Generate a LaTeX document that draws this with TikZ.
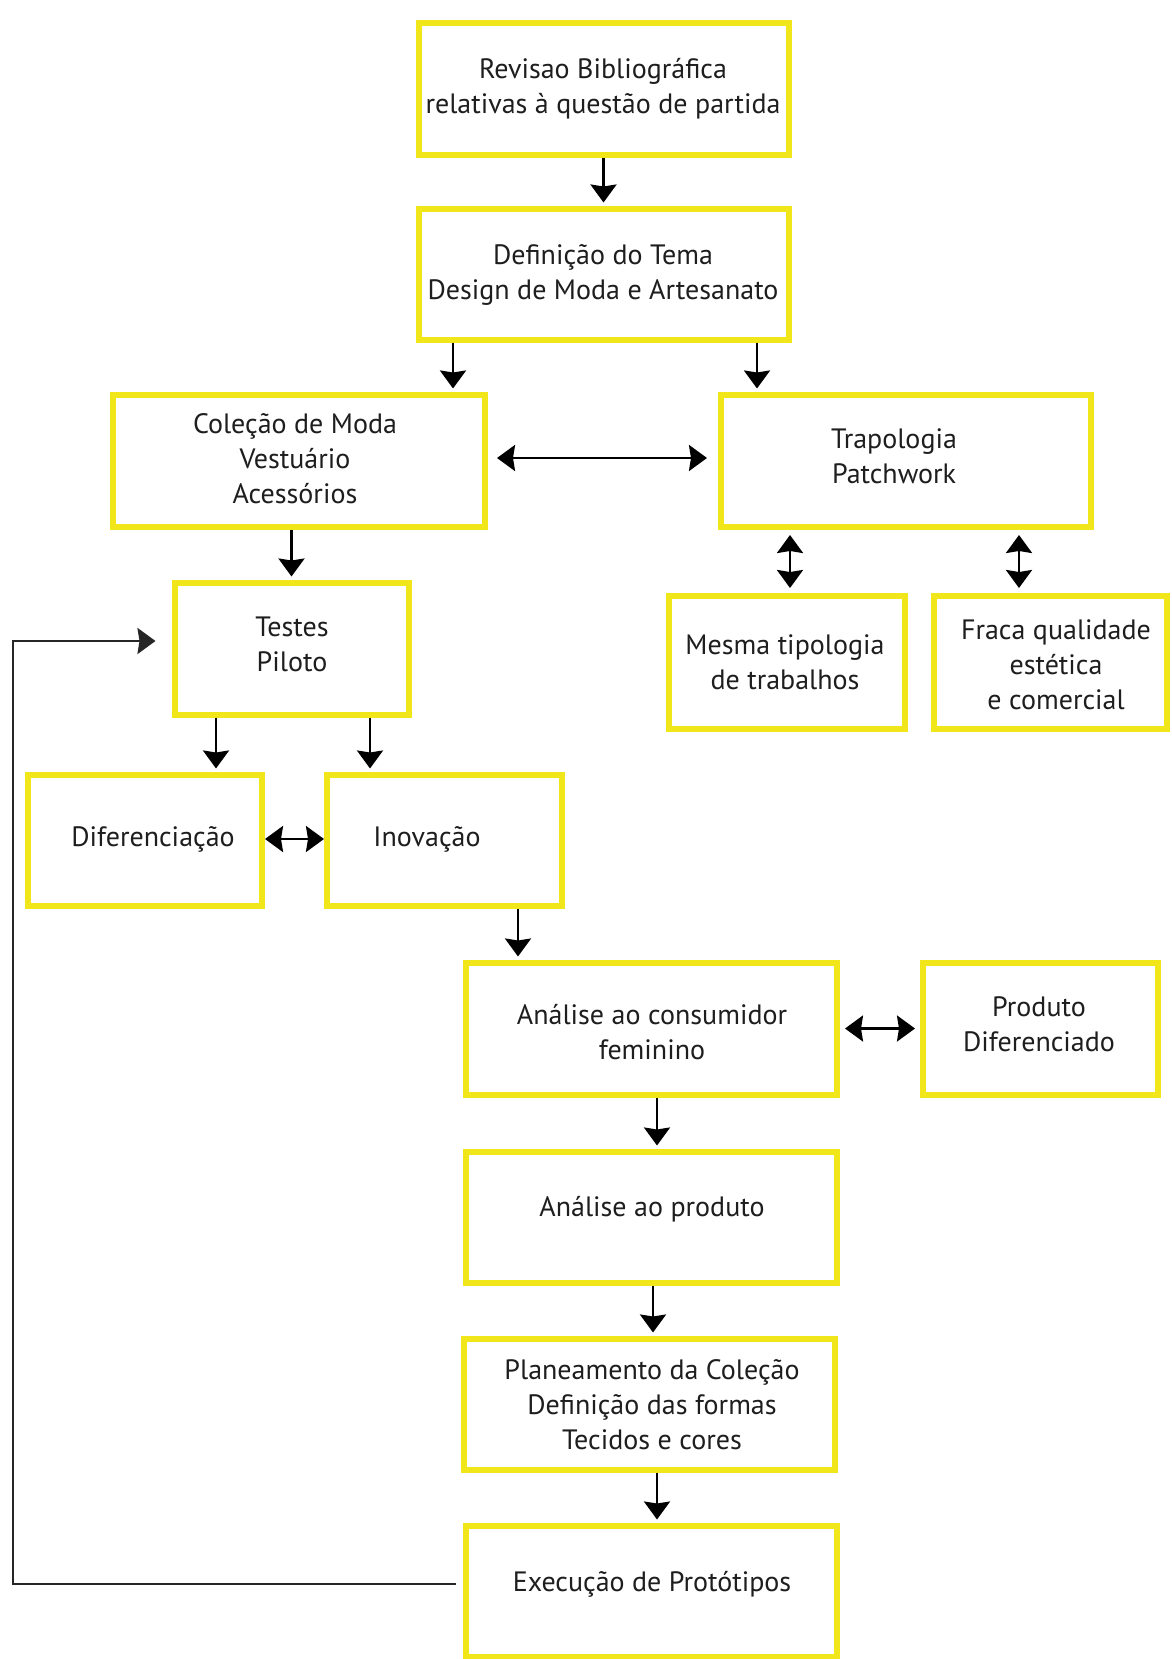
\documentclass[tikz,border=0pt]{standalone}
\usepackage{fontspec}
\setmainfont{PT Sans}
\usetikzlibrary{arrows.meta}
\definecolor{boxyellow}{RGB}{240,230,25}
\definecolor{inkgray}{RGB}{30,30,30}
\tikzset{
  box/.style={draw=boxyellow, line width=6pt, fill=white, rectangle, inner sep=0pt},
  txt/.style={align=center, text=inkgray, font=\fontsize{28pt}{35pt}\selectfont, inner sep=0pt},
  arr/.style={draw=black, line width=2.5pt, -{Stealth[width=26pt,length=18pt,inset=2pt]}},
  darr/.style={draw=black, line width=2.5pt, {Stealth[width=26pt,length=18pt,inset=2pt]}-{Stealth[width=26pt,length=18pt,inset=2pt]}},
  fb/.style={draw=black!85, line width=2.5pt, -{Stealth[width=26pt,length=18pt,inset=2pt]}}
}
\begin{document}
\begin{tikzpicture}[x=1pt,y=-1pt]
\useasboundingbox[fill=white] (0,0) rectangle (1171,1659);
% boxes
\node[box, minimum width=370pt, minimum height=131pt] (b1) at (603.5,89) {};
\node[box, minimum width=370pt, minimum height=131pt] (b2) at (603.5,274) {};
\node[box, minimum width=372pt, minimum height=132pt] (b3) at (298.5,460.5) {};
\node[box, minimum width=370pt, minimum height=132pt] (b4) at (905.5,460.5) {};
\node[box, minimum width=234pt, minimum height=132pt] (b5) at (291.5,648.5) {};
\node[box, minimum width=236pt, minimum height=133pt] (b6) at (786.5,662) {};
\node[box, minimum width=233pt, minimum height=133pt] (b7) at (1050,662) {};
\node[box, minimum width=234pt, minimum height=131pt] (b8) at (144.5,840) {};
\node[box, minimum width=235pt, minimum height=131pt] (b9) at (444,840) {};
\node[box, minimum width=371pt, minimum height=132pt] (b10) at (651,1028.5) {};
\node[box, minimum width=235pt, minimum height=132pt] (b11) at (1040,1028.5) {};
\node[box, minimum width=371pt, minimum height=131pt] (b12) at (651,1217) {};
\node[box, minimum width=371pt, minimum height=131pt] (b13) at (649,1404) {};
\node[box, minimum width=371pt, minimum height=131pt] (b14) at (651,1591) {};
% texts
\node[txt] (t1) at (603,89) {Revisao Bibliográfica\\relativas à questão de partida};
\node[txt] (t2) at (603,275) {Definição do Tema\\Design de Moda e Artesanato};
\node[txt] (t3) at (295,459) {Coleção de Moda\\Vestuário\\Acessórios};
\node[txt] (t4) at (894,456) {Trapologia\\Patchwork};
\node[txt] (t5) at (292,644) {Testes\\Piloto};
\node[txt] (t6) at (785,662) {Mesma tipologia\\de trabalhos};
\node[txt] (t7) at (1056,665) {Fraca qualidade\\estética\\e comercial};
\node[txt] (t8) at (153,839) {Diferenciação};
\node[txt] (t9) at (427,839) {Inovação};
\node[txt] (t10) at (652,1032) {Análise ao consumidor\\feminino};
\node[txt] (t11) at (1039,1024) {Produto\\Diferenciado};
\node[txt] (t12) at (652,1209) {Análise ao produto};
\node[txt] (t13) at (652,1405) {Planeamento da Coleção\\Definição das formas\\Tecidos e cores};
\node[txt] (t14) at (652,1584) {Execução de Protótipos};
% connectors
\draw[arr] (b1.south) -- ([yshift=3pt]b2.north);
\draw[arr] ([xshift=-150.5pt]b2.south) -- ([xshift=-150.5pt,yshift=3pt]b2.south |- b3.north);
\draw[arr] ([xshift=153.5pt]b2.south) -- ([xshift=153.5pt,yshift=3pt]b2.south |- b4.north);
\draw[darr] ([xshift=9.5pt,yshift=2.5pt]b3.east) -- ([xshift=-10.5pt,yshift=2.5pt]b4.west);
\draw[arr] (b3.south -| b5.north) -- ([yshift=3pt]b5.north);
\draw[darr] ([xshift=-115.5pt,yshift=-5.5pt]b4.south) -- ([xshift=-115.5pt,yshift=4.5pt]b4.south |- b6.north);
\draw[darr] ([xshift=113.5pt,yshift=-5.5pt]b4.south) -- ([xshift=113.5pt,yshift=4.5pt]b4.south |- b7.north);
\draw[arr] ([xshift=-75.5pt]b5.south) -- ([xshift=-75.5pt,yshift=3pt]b5.south |- b8.north);
\draw[arr] ([xshift=78.5pt]b5.south) -- ([xshift=78.5pt,yshift=3pt]b5.south |- b9.north);
\draw[darr] ([xshift=0.5pt,yshift=1pt]b8.east) -- ([xshift=0.5pt,yshift=1pt]b9.west);
\draw[arr] ([xshift=74pt]b9.south) -- ([xshift=74pt,yshift=3pt]b9.south |- b10.north);
\draw[darr] ([xshift=5.5pt]b10.east) -- ([xshift=-4.5pt]b11.west);
\draw[arr] ([xshift=6pt]b10.south) -- ([xshift=6pt,yshift=3pt]b12.north);
\draw[arr] ([xshift=2pt]b12.south) -- ([xshift=2pt,yshift=3pt]b12.south |- b13.north);
\draw[arr] ([xshift=8pt]b13.south) -- ([xshift=8pt,yshift=3pt]b13.south |- b14.north);
\coordinate (c0) at ([xshift=-7pt,yshift=7pt]b14.west);
\coordinate (c1) at (13,1584);
\coordinate (c2) at (13,641);
\draw[fb] (c0) -- (c1) -- (c2) -- ([xshift=-16pt]b5.west |- c2);
\end{tikzpicture}
\end{document}
